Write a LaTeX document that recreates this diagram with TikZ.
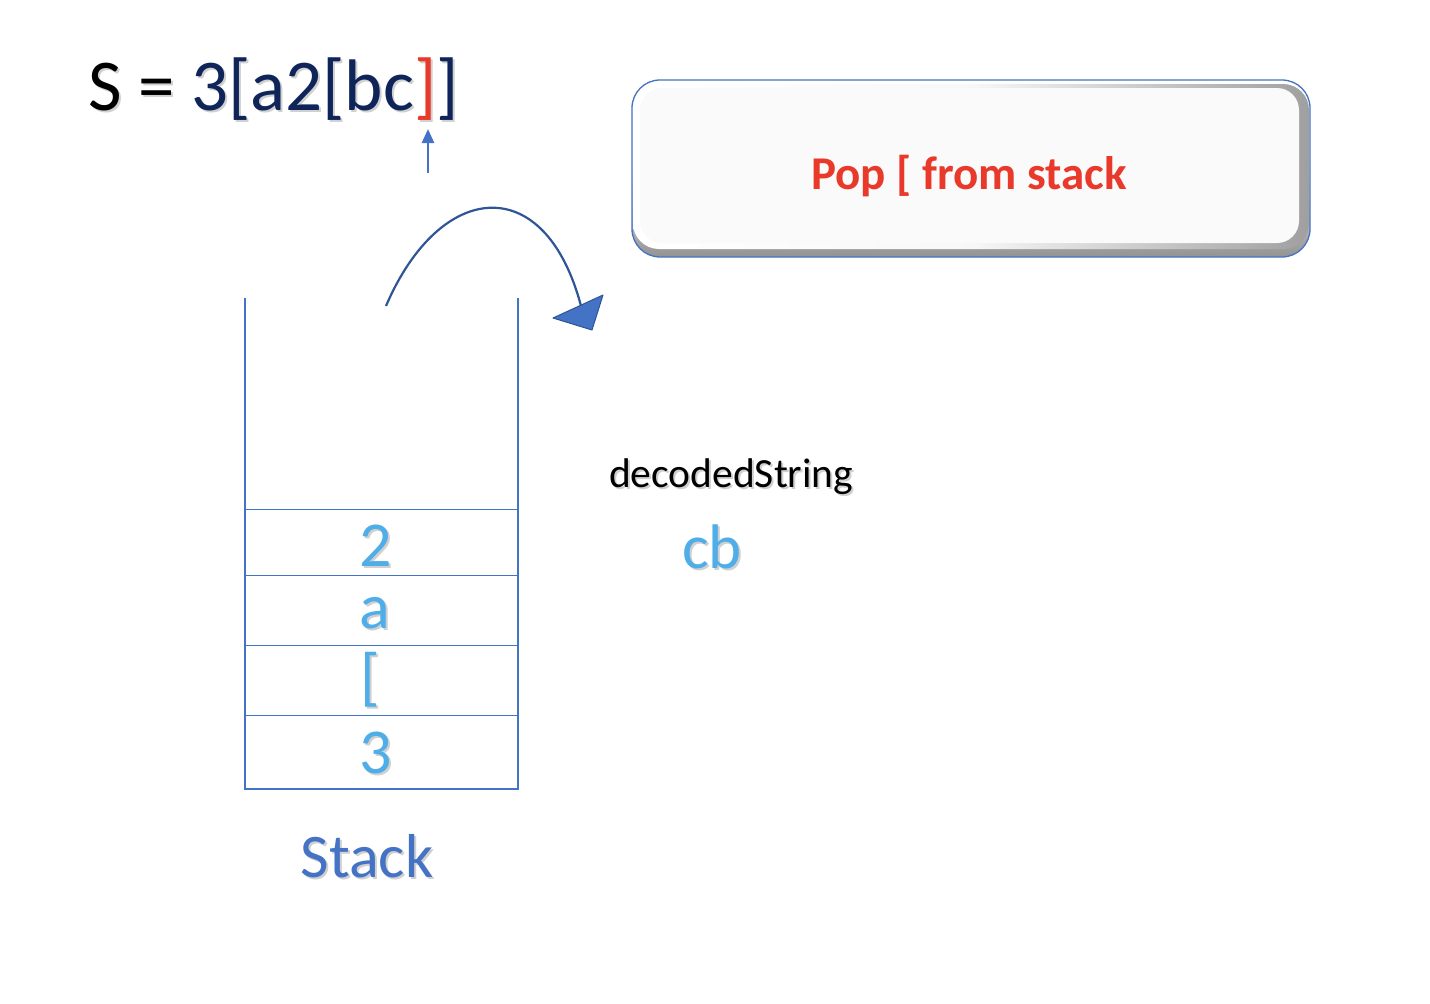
\documentclass[tikz,border=0pt]{standalone}
\usepackage{fontspec}
\setmainfont{Carlito}
\usetikzlibrary{arrows.meta}
\definecolor{lineblue}{HTML}{4472C4}
\definecolor{curveblue}{HTML}{2F5597}
\definecolor{navy}{HTML}{0F2459}
\definecolor{popred}{HTML}{E8392A}
\definecolor{itemblue}{HTML}{4FAEE8}
\definecolor{shadowgray}{HTML}{D0D0D0}
\tikzset{
  stackwall/.style={draw=lineblue, line width=2.4pt},
  stackdiv/.style={draw=lineblue, line width=1pt},
  txt/.style={inner sep=0pt},
  item/.style={txt, anchor=base, text=itemblue, font=\fontsize{64}{70}\selectfont},
  shad/.style={text=shadowgray, shift={(2,2.5)}},
}
\begin{document}
\begin{tikzpicture}[x=1pt, y=-1pt]
\useasboundingbox (0,0) rectangle (1430,1004);
% title
\node (titleshadow) [txt, shad, anchor=base west, font=\fontsize{73}{80}\selectfont] at (88,110) {S = 3[a2[bc]]};
\node (title) [txt, anchor=base west, font=\fontsize{73}{80}\selectfont] at (88,110)
  {S = \textcolor{navy}{3[a2[bc}\textcolor{popred}{]}\textcolor{navy}{]}};
% pointer arrow
\coordinate (ptrTail) at (428,173);
\coordinate (ptrTip) at (428,129);
\draw[lineblue, line width=2.5pt, -{Triangle[length=14pt, width=12pt]}] (ptrTail) -- (ptrTip);
% pop box
\shade[rounded corners=28pt, top color=white, bottom color=gray!85, middle color=gray!8]
  (632,80) rectangle (1310,257);
\shade[rounded corners=26pt, left color=white, right color=gray!75, middle color=white!97!black]
  (633,84) rectangle (1309,249);
\fill[white!98!black, rounded corners=22pt] (640,88) rectangle (1299,243);
\node (popbox) [draw=lineblue, line width=1.3pt, rounded corners=28pt,
  minimum width=678pt, minimum height=177pt] at (971,168.5) {};
\node (poptext) [txt, anchor=base, text=popred, font=\fontsize{47}{52}\selectfont\bfseries]
  at (969,189) {Pop [ from stack};
% curved arrow
\coordinate (curveStart) at (386,306);
\coordinate (curveEnd) at (581,306);
\draw[curveblue, line width=2.2pt] (curveStart) .. controls (440,180) and (545,170) .. (curveEnd);
\filldraw[fill=lineblue, draw=curveblue, line width=1pt, line join=round]
  (553,318) -- (603,295) -- (592,330) -- cycle;
% stack
\draw[stackwall] (245,298) -- (245,789) -- (518,789) -- (518,298);
\foreach \yy in {509,575,645,715} \draw[stackdiv] (245,\yy) -- (518,\yy);
\node (s2shadow) [item, shad] at (376,566) {2};
\node (s2) [item] at (376,566) {2};
\node (sashadow) [item, shad] at (375,628) {a};
\node (sa) [item] at (375,628) {a};
\node (sbshadow) [item, shad] at (370,698) {[};
\node (sb) [item] at (370,698) {[};
\node (s3shadow) [item, shad] at (376,773) {3};
\node (s3) [item] at (376,773) {3};
\node (stackshadow) [txt, shad, anchor=base, font=\fontsize{62}{68}\selectfont] at (367,877) {Stack};
\node (stacklbl) [txt, anchor=base, text=lineblue, font=\fontsize{62}{68}\selectfont] at (367,877) {Stack};
% decoded string
\node (declblshadow) [txt, shad, anchor=base west, font=\fontsize{41.5}{46}\selectfont] at (609,487) {decodedString};
\node (declbl) [txt, anchor=base west, font=\fontsize{41.5}{46}\selectfont] at (609,487) {decodedString};
\node (decvalshadow) [txt, shad, anchor=base west, font=\fontsize{63}{68}\selectfont] at (682,568) {cb};
\node (decval) [txt, anchor=base west, text=itemblue, font=\fontsize{63}{68}\selectfont] at (682,568) {cb};
\end{tikzpicture}
\end{document}
